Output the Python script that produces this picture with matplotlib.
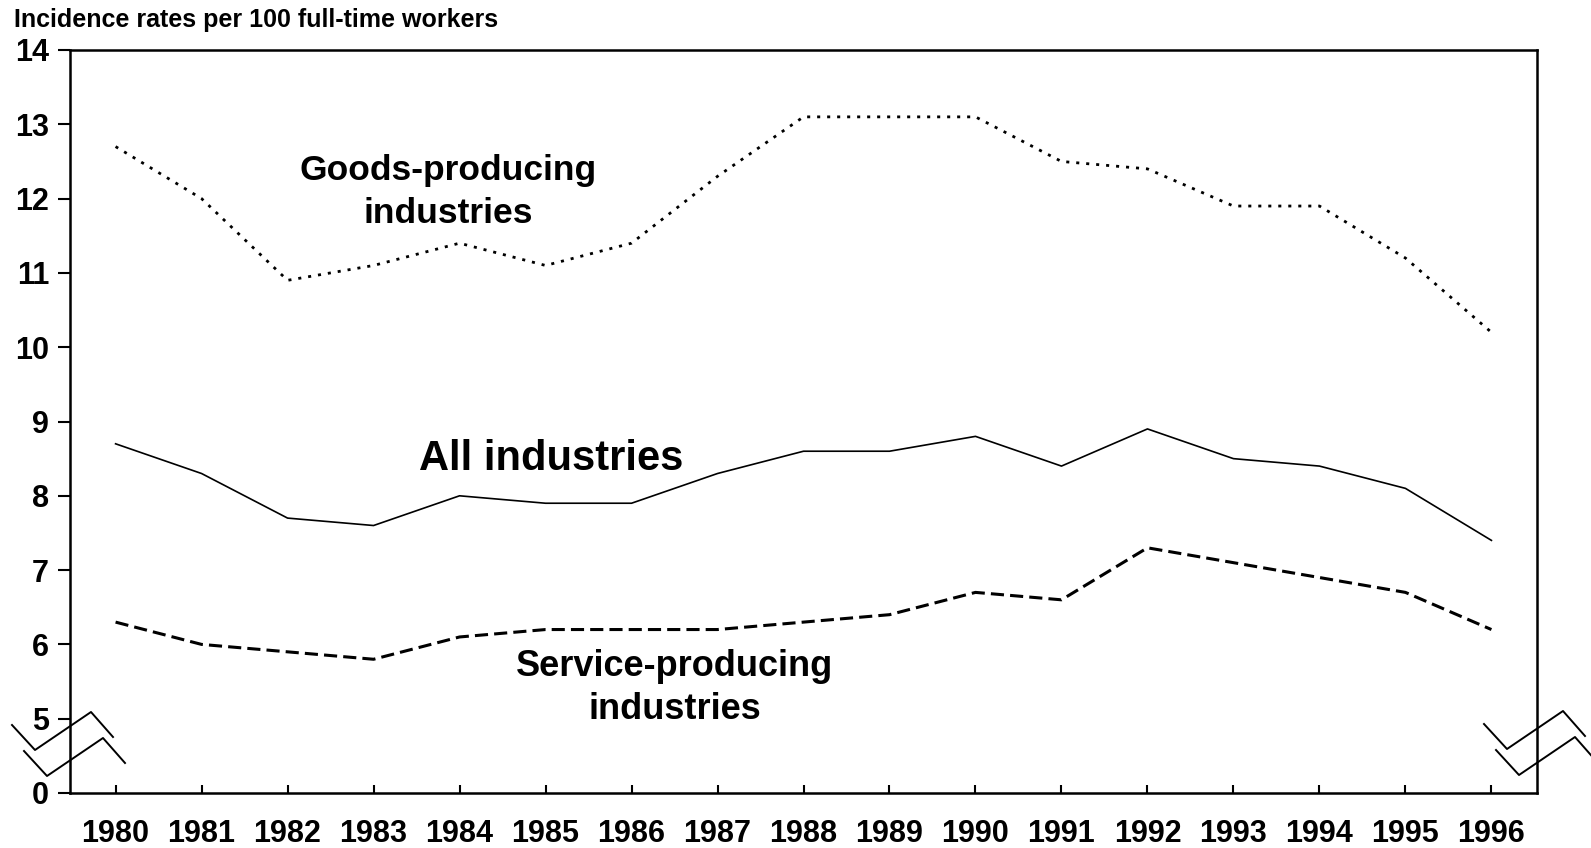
import matplotlib
matplotlib.use("Agg")
import matplotlib.pyplot as plt

plt.rcParams["font.family"] = ["Liberation Sans", "DejaVu Sans"]
plt.rcParams["font.weight"] = "bold"

years = list(range(1980, 1997))
goods = [12.7, 12.0, 10.9, 11.1, 11.4, 11.1, 11.4, 12.3, 13.1, 13.1, 13.1,
         12.5, 12.4, 11.9, 11.9, 11.2, 10.2]
all_ind = [8.7, 8.3, 7.7, 7.6, 8.0, 7.9, 7.9, 8.3, 8.6, 8.6, 8.8,
           8.4, 8.9, 8.5, 8.4, 8.1, 7.4]
service = [6.3, 6.0, 5.9, 5.8, 6.1, 6.2, 6.2, 6.2, 6.3, 6.4, 6.7,
           6.6, 7.3, 7.1, 6.9, 6.7, 6.2]

# broken axis: "0" sits one unit below 5
ytick_pos = [4, 5, 6, 7, 8, 9, 10, 11, 12, 13, 14]
ytick_lab = ["0", "5", "6", "7", "8", "9", "10", "11", "12", "13", "14"]

W, H = 1591, 848
fig = plt.figure(figsize=(W / 100, H / 100), dpi=100)
ax = fig.add_axes([70 / W, 1 - 793 / H, (1537 - 70) / W, (793 - 50) / H])

ax.plot(years, goods, color="k", lw=2.0, linestyle=(0, (1.1, 2.5)))
ax.plot(years, all_ind, color="k", lw=1.2, linestyle="-")
ax.plot(years, service, color="k", lw=2.2, linestyle=(0, (4.3, 2.0)))

ax.set_xlim(1979.47, 1996.53)
ax.set_ylim(4, 14)
ax.set_xticks(years)
ax.set_xticklabels([str(y) for y in years], fontsize=22, fontweight="bold")
ax.set_yticks(ytick_pos)
ax.set_yticklabels(ytick_lab, fontsize=22, fontweight="bold")
ax.tick_params(axis="x", direction="in", length=6, width=1.5, pad=19)
ax.tick_params(axis="y", direction="out", length=9, width=1.5, pad=6)
for s in ax.spines.values():
    s.set_linewidth(1.8)

fig.text(14 / W, 1 - 20 / H, "Incidence rates per 100 full-time workers",
         fontsize=18, fontweight="bold", va="center", ha="left")

ax.text(1983.87, 12.09, "Goods-producing\nindustries", fontsize=25.5,
        fontweight="bold", ha="center", va="center", linespacing=1.36)
ax.text(1985.07, 8.5, "All industries", fontsize=30, fontweight="bold",
        ha="center", va="center")
ax.text(1986.5, 5.41, "Service-producing\nindustries", fontsize=26,
        fontweight="bold", ha="center", va="center", linespacing=1.3)

# axis-break zigzags (figure pixels)
zig = [(0, 0), (23, 25), (79, -13), (101, 12)]
for x0, y0 in [(12, 725), (24, 751), (1484, 724), (1496, 750)]:
    xs = [(x0 + dx) / W for dx, dy in zig]
    ys = [1 - (y0 + dy) / H for dx, dy in zig]
    fig.add_artist(plt.Line2D(xs, ys, color="k", lw=1.4))

fig.savefig("out.png", dpi=100)
